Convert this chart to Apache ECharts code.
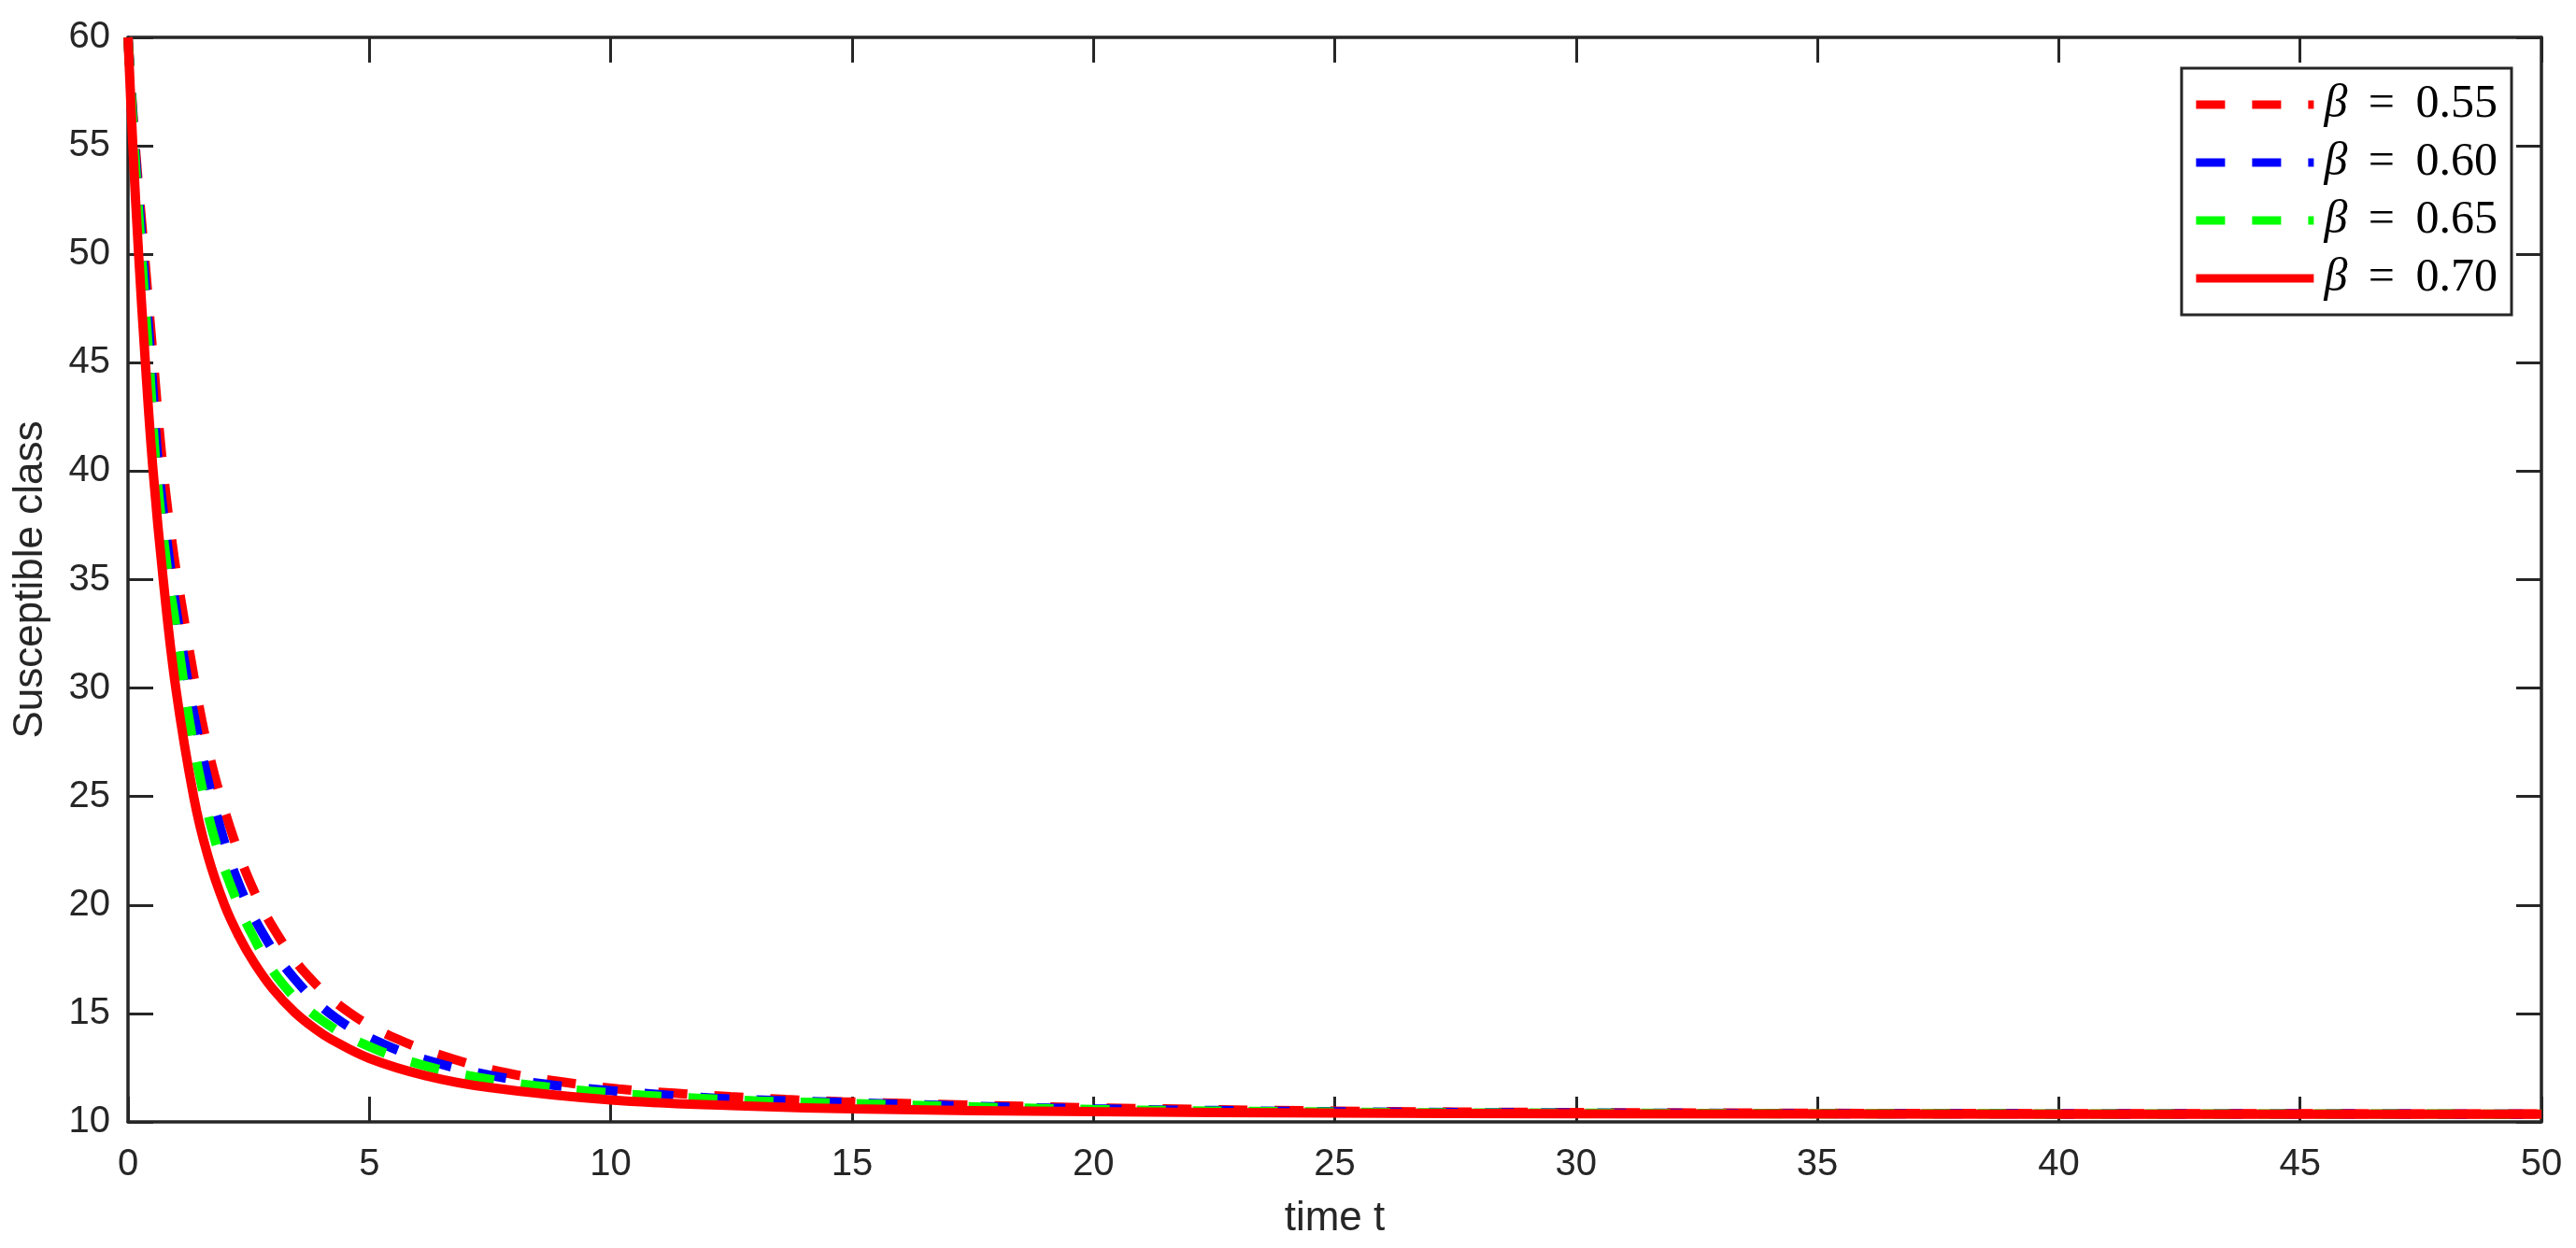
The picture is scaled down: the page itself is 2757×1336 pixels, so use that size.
<!DOCTYPE html>
<html>
<head>
    <meta charset="utf-8" />
    <title>Susceptible class</title>
    <script src="https://cdn.jsdelivr.net/npm/echarts/dist/echarts.min.js"></script>
    <style>
        html, body { margin: 0; padding: 0; background: #fff; }
        #main { width: 2757px; height: 1336px; }
    </style>
</head>
<body>
<div id="main"></div>
<script type="text/javascript">
    // values: time t and susceptible class S(t)
    var betaNames = ['β = 0.55', 'β = 0.60', 'β = 0.65', 'β = 0.70'];

    var t055 = [0, 0.15, 0.34, 0.53, 0.73, 0.95, 1.13, 1.32, 1.53, 1.79, 2.11, 2.52, 3.05, 3.74, 4.61, 5.6, 6.74, 7.86, 9.0, 10.16, 11.33, 12.48, 13.63, 14.8, 17, 20, 25, 30, 40, 50];
    var s055 = [60, 55, 50, 45, 40, 36.1, 33.6, 31.1, 28.5, 26.0, 23.6, 21.1, 18.8, 16.7, 15.0, 13.8, 12.9, 12.25, 11.84, 11.52, 11.32, 11.16, 11.03, 10.93, 10.8, 10.65, 10.5, 10.43, 10.38, 10.37];

    var t060 = [0, 0.14, 0.31, 0.48, 0.64, 0.91, 1.0, 1.18, 1.39, 1.63, 1.92, 2.29, 2.79, 3.45, 4.3, 5.32, 6.42, 7.55, 8.71, 9.86, 11.0, 12.18, 13.35, 14.5, 17, 20, 25, 30, 40, 50];
    var s060 = [60, 55, 50, 45, 40, 35, 33.6, 31.1, 28.5, 26.0, 23.5, 21.0, 18.7, 16.6, 14.8, 13.56, 12.7, 12.13, 11.72, 11.47, 11.26, 11.09, 10.99, 10.92, 10.75, 10.6, 10.47, 10.41, 10.37, 10.36];

    var t065 = [0, 0.13, 0.28, 0.44, 0.59, 0.84, 0.94, 1.10, 1.27, 1.48, 1.75, 2.11, 2.58, 3.19, 4.03, 5.06, 6.15, 7.29, 8.43, 9.59, 10.73, 11.9, 13.07, 14.24, 17, 20, 25, 30, 40, 50];
    var s065 = [60, 55, 50, 45, 40, 35, 33.6, 31.1, 28.5, 26.0, 23.4, 21.0, 18.6, 16.4, 14.66, 13.42, 12.59, 12.04, 11.67, 11.41, 11.22, 11.08, 10.96, 10.89, 10.72, 10.57, 10.45, 10.4, 10.37, 10.36];

    var t070 = [0, 0.1, 0.22, 0.36, 0.52, 0.73, 0.99, 1.36, 1.65, 2.0, 2.3, 2.61, 3.0, 3.45, 3.9, 4.2, 5, 6.17, 7.5, 10, 12.5, 15, 20, 25, 30, 40, 50];
    var s070 = [60, 55, 50, 45, 40, 35, 30, 25, 22.3, 20, 18.55, 17.35, 16.13, 15.06, 14.25, 13.82, 12.93, 12.13, 11.58, 11.01, 10.75, 10.6, 10.47, 10.41, 10.38, 10.36, 10.36];

    var axisColor = '#262626';

    function pairs(t, s) {
        var out = [];
        for (var i = 0; i < t.length; i++) {
            out.push([t[i], s[i]]);
        }
        return out;
    }

    function makeSeries(name, t, s, color, dashed) {
        return {
            name: name,
            type: 'line',
            data: pairs(t, s),
            symbol: 'none',
            smooth: 0.4,
            clip: false,
            lineStyle: {
                color: color,
                width: 10,
                type: dashed ? [31, 29] : 'solid',
                cap: 'butt'
            },
            itemStyle: { color: color }
        };
    }

    var tickStyle = { show: true, inside: true, length: 27, lineStyle: { color: axisColor, width: 3 } };
    var lineAxis = { show: true, onZero: false, lineStyle: { color: axisColor, width: 3.5 } };
    var labelFont = { color: axisColor, fontFamily: 'Liberation Sans, Arial, sans-serif', fontSize: 40 };

    var option = {
        animation: false,
        backgroundColor: '#ffffff',
        grid: { left: 137, right: 37, top: 40, bottom: 135 },
        legend: {
            orient: 'vertical',
            right: 69,
            top: 73,
            padding: [14, 15, 14, 11],
            backgroundColor: '#ffffff',
            borderColor: axisColor,
            borderWidth: 3,
            borderRadius: 0,
            itemWidth: 126,
            itemHeight: 40,
            itemGap: 12,
            data: betaNames,
            lineStyle: { width: 9 },
            itemStyle: { opacity: 0 },
            formatter: function (name) {
                return '{b|β}{t|\u2009 = \u2009' + name.slice(4) + '}';
            },
            textStyle: {
                padding: [0, 0, 0, 6],
                rich: {
                    b: { fontFamily: 'Liberation Serif', fontStyle: 'italic', fontSize: 50, color: '#000', lineHeight: 40 },
                    t: { fontFamily: 'Liberation Serif', fontSize: 50, color: '#000', lineHeight: 40 }
                }
            }
        },
        xAxis: [{
            type: 'value',
            min: 0, max: 50, interval: 5,
            position: 'bottom',
            name: 'time t',
            nameLocation: 'middle',
            nameGap: 82,
            nameTextStyle: { color: axisColor, fontFamily: 'Liberation Sans, Arial, sans-serif', fontSize: 44, verticalAlign: 'top' },
            axisLine: lineAxis,
            axisTick: tickStyle,
            axisLabel: Object.assign({ margin: 26 }, labelFont),
            splitLine: { show: false }
        }, {
            type: 'value',
            min: 0, max: 50, interval: 5,
            position: 'top',
            axisLine: lineAxis,
            axisTick: tickStyle,
            axisLabel: { show: false },
            splitLine: { show: false }
        }],
        yAxis: [{
            type: 'value',
            min: 10, max: 60, interval: 5,
            position: 'left',
            name: 'Susceptible class',
            nameLocation: 'middle',
            nameGap: 82,
            nameRotate: 90,
            nameTextStyle: { color: axisColor, fontFamily: 'Liberation Sans, Arial, sans-serif', fontSize: 44 },
            axisLine: lineAxis,
            axisTick: tickStyle,
            axisLabel: Object.assign({ margin: 19 }, labelFont),
            splitLine: { show: false }
        }, {
            type: 'value',
            min: 10, max: 60, interval: 5,
            position: 'right',
            axisLine: lineAxis,
            axisTick: tickStyle,
            axisLabel: { show: false },
            splitLine: { show: false }
        }],
        series: [
            makeSeries(betaNames[0], t055, s055, '#ff0000', true),
            makeSeries(betaNames[1], t060, s060, '#0000ff', true),
            makeSeries(betaNames[2], t065, s065, '#00ff00', true),
            makeSeries(betaNames[3], t070, s070, '#ff0000', false)
        ]
    };

    var myChart = echarts.init(document.getElementById('main'));
    myChart.setOption(option);
</script>
</body>
</html>
